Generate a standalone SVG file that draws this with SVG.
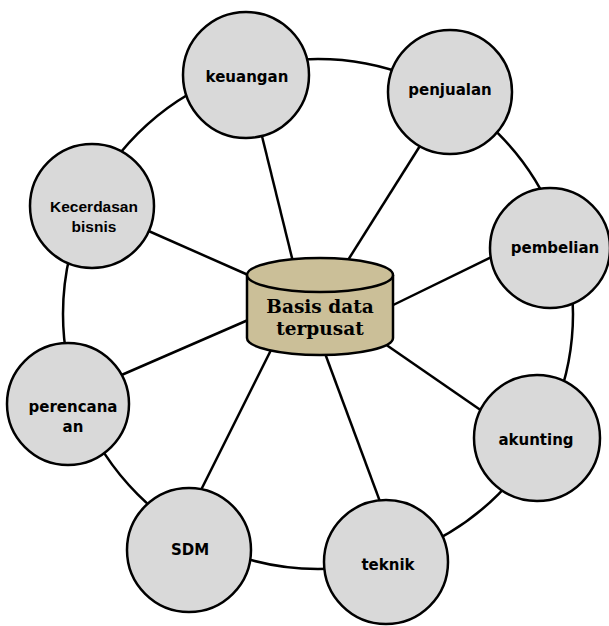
<svg xmlns="http://www.w3.org/2000/svg" width="609" height="626" viewBox="0 0 609 626">
<style>
.ring{fill:none;stroke:#000;stroke-width:2.5}
.conn line{stroke:#000;stroke-width:2.5}
.node circle{fill:#d9d9d9;stroke:#000;stroke-width:2.5}
.node text{font-family:"DejaVu Sans",sans-serif;font-weight:bold;font-size:15px;text-anchor:middle;fill:#000}
.node text.small{font-family:"Liberation Sans",Arial,sans-serif;font-size:15.5px}
.db path,.db ellipse{fill:#cbbf98;stroke:#000;stroke-width:2.5}
.db text{font-family:"DejaVu Serif","Liberation Serif",serif;font-weight:bold;font-size:18.5px;text-anchor:middle;fill:#000}
</style>
<rect width="609" height="626" fill="#fff"/>
<g id="connectors">
<circle class="ring" cx="318" cy="314" r="255"/>
<g class="conn">
<line x1="258" y1="120" x2="295" y2="270"/>
<line x1="430" y1="130" x2="343" y2="268"/>
<line x1="135" y1="225" x2="255" y2="278"/>
<line x1="510" y1="248" x2="385" y2="309"/>
<line x1="110" y1="380" x2="255" y2="317"/>
<line x1="195" y1="502" x2="273" y2="346"/>
<line x1="385" y1="515" x2="323" y2="348"/>
<line x1="495" y1="420" x2="385" y2="344"/>
</g>
</g>
<g id="keuangan" class="node"><circle cx="246" cy="75" r="63"/><text x="247" y="82">keuangan</text></g>
<g id="penjualan" class="node"><circle cx="450" cy="92" r="62"/><text x="450" y="95">penjualan</text></g>
<g id="kecerdasan" class="node"><circle cx="92" cy="206" r="62"/><text class="small" x="94" y="212">Kecerdasan</text><text class="small" x="94" y="232">bisnis</text></g>
<g id="pembelian" class="node"><circle cx="550" cy="248" r="60"/><text x="555" y="253">pembelian</text></g>
<g id="akunting" class="node"><circle cx="537" cy="438" r="63"/><text x="536" y="445">akunting</text></g>
<g id="teknik" class="node"><circle cx="386" cy="562" r="62"/><text x="388" y="570">teknik</text></g>
<g id="sdm" class="node"><circle cx="189" cy="550" r="62"/><text x="190" y="555">SDM</text></g>
<g id="perencanaan" class="node"><circle cx="68" cy="404" r="61"/><text x="73" y="412">perencana</text><text x="73" y="432">an</text></g>
<g id="basis-data" class="db">
<path d="M247,275 L247,338 A73,17 0 0 0 393,338 L393,275"/>
<ellipse cx="320" cy="275" rx="73" ry="17"/>
<text x="320" y="313">Basis data</text>
<text x="320" y="335">terpusat</text>
</g>
</svg>
